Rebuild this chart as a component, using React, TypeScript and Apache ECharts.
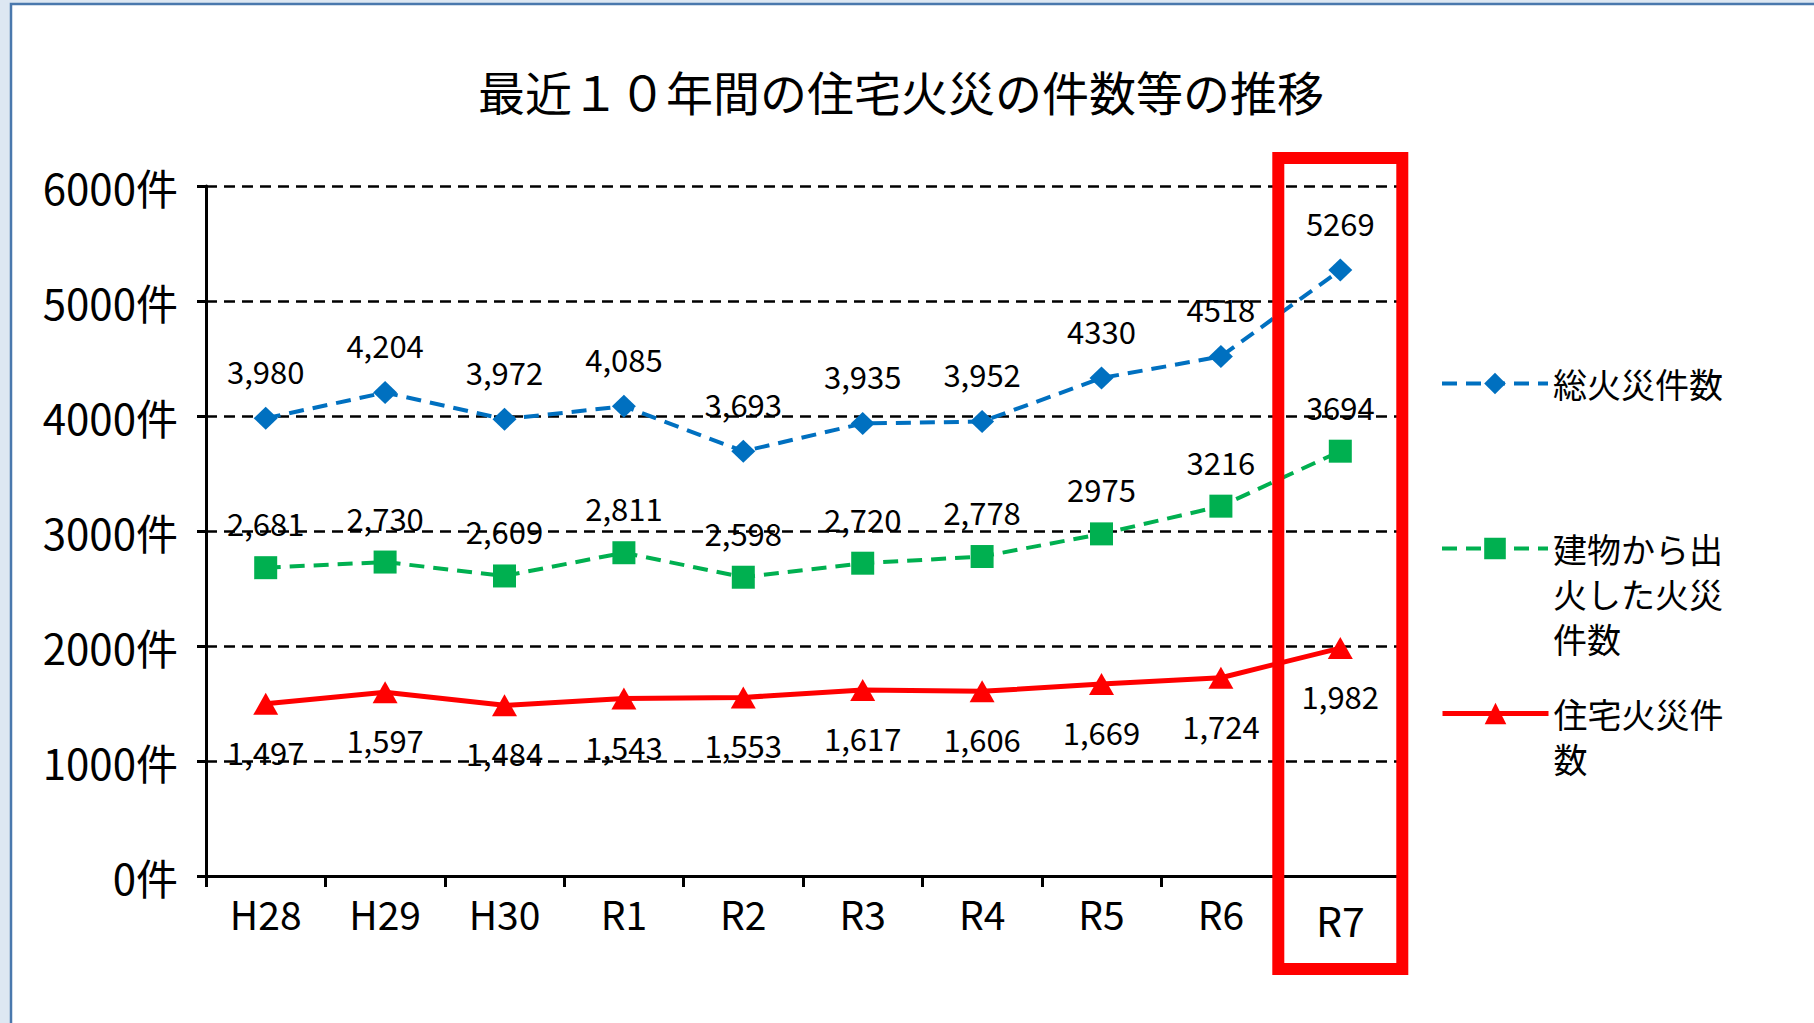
import React, { useEffect, useRef } from "react";
import * as echarts from "echarts";

const categories = ["H28", "H29", "H30", "R1", "R2", "R3", "R4", "R5", "R6", "R7"];

const totalFires = [3980, 4204, 3972, 4085, 3693, 3935, 3952, 4330, 4518, 5269];
const totalFireLabels = ["3,980", "4,204", "3,972", "4,085", "3,693", "3,935", "3,952", "4330", "4518", "5269"];

const buildingFires = [2681, 2730, 2609, 2811, 2598, 2720, 2778, 2975, 3216, 3694];
const buildingFireLabels = ["2,681", "2,730", "2,609", "2,811", "2,598", "2,720", "2,778", "2975", "3216", "3694"];

const residentialFires = [1497, 1597, 1484, 1543, 1553, 1617, 1606, 1669, 1724, 1982];
const residentialFireLabels = ["1,497", "1,597", "1,484", "1,543", "1,553", "1,617", "1,606", "1,669", "1,724", "1,982"];

const seriesNames = ["総火災件数", "建物から出火した火災件数", "住宅火災件数"];
const legendLines: Record<string, string[]> = {
  "総火災件数": ["総火災件数"],
  "建物から出火した火災件数": ["建物から出", "火した火災", "件数"],
  "住宅火災件数": ["住宅火災件", "数"],
};

const yTicks = { min: 0, max: 6000, interval: 1000 };
const highlightCategory = "R7";
const titleText = "最近１０年間の住宅火災の件数等の推移";

const FONT = "'Noto Sans CJK JP', 'Noto Sans', sans-serif";
const BLUE = "#0070c0";
const GREEN = "#00b050";
const RED = "#ff0000";
const LH = 45;

function legendFor(name: string, top: number, lineWidth: number) {
  return {
    data: [name],
    left: 1440,
    top,
    orient: "vertical",
    padding: 0,
    itemWidth: 106,
    itemHeight: 27,
    lineStyle: { width: lineWidth },
    formatter: (nm: string) => {
      const lines = legendLines[nm];
      // leading blank lines keep the first text line level with the legend icon
      const pad = new Array(lines.length - 1).fill("");
      return pad.concat(lines).join("\n");
    },
    textStyle: {
      fontFamily: FONT,
      fontSize: 34,
      lineHeight: LH,
      color: "#000",
    },
  };
}

export default function App() {
  const ref = useRef<HTMLDivElement>(null);

  useEffect(() => {
    if (!ref.current) return;
    const chart = echarts.init(ref.current, null, { renderer: "svg" });
    const frame = {
      id: "frame",
      type: "rect",
      z: -10,
      silent: true,
      shape: { x: 11, y: 4, width: 1900, height: 1100 },
      style: { fill: "#ffffff", stroke: "#4a78ad", lineWidth: 2.5 },
    };
    const dataLabel = {
      show: true,
      fontFamily: FONT,
      fontSize: 31,
      color: "#000",
    };
    const option: any = {
      animation: false,
      backgroundColor: "#dde7f2",
      textStyle: { fontFamily: FONT },
      title: {
        text: titleText,
        left: 896,
        textAlign: "center",
        top: 62,
        textStyle: { fontFamily: FONT, fontSize: 47, fontWeight: "normal", color: "#000" },
      },
      legend: [
        legendFor(seriesNames[0], 361, 4),
        legendFor(seriesNames[1], 436, 4),
        legendFor(seriesNames[2], 646, 5),
      ],
      grid: { left: 206, right: 414, top: 186, bottom: 147, containLabel: false },
      xAxis: {
        type: "category",
        data: categories,
        boundaryGap: true,
        axisLine: { lineStyle: { color: "#000", width: 3 } },
        axisTick: { show: true, interval: 0, length: 11, lineStyle: { color: "#000", width: 3 } },
        axisLabel: {
          interval: 0,
          margin: 17,
          fontFamily: FONT,
          fontSize: 39,
          color: "#000",
          formatter: (v: string) => (v === highlightCategory ? "{h|" + v + "}" : v),
          rich: { h: { fontFamily: FONT, fontSize: 41, color: "#000", padding: [5, 0, 0, 0] } },
        },
        splitLine: { show: false },
      },
      yAxis: {
        type: "value",
        min: yTicks.min,
        max: yTicks.max,
        interval: yTicks.interval,
        axisLine: { show: true, lineStyle: { color: "#000", width: 3 } },
        axisTick: { show: true, length: 9, lineStyle: { color: "#000", width: 3 } },
        axisLabel: {
          margin: 28,
          fontFamily: FONT,
          fontSize: 42,
          color: "#000",
          formatter: (v: number) => String(v) + "件",
        },
        splitLine: { show: true, lineStyle: { color: "#000", width: 2.5, type: [11, 7] } },
      },
      series: [
        {
          name: seriesNames[0],
          type: "line",
          data: totalFires,
          symbol: "diamond",
          symbolSize: [24, 23],
          itemStyle: { color: BLUE },
          lineStyle: { color: BLUE, width: 4, type: [15, 9] },
          label: {
            ...dataLabel,
            position: "top",
            distance: 21,
            formatter: (p: any) => totalFireLabels[p.dataIndex],
          },
          z: 3,
        },
        {
          name: seriesNames[1],
          type: "line",
          data: buildingFires,
          symbol: "rect",
          symbolSize: 23,
          itemStyle: { color: GREEN },
          lineStyle: { color: GREEN, width: 4, type: [15, 9] },
          label: {
            ...dataLabel,
            position: "top",
            distance: 18,
            formatter: (p: any) => buildingFireLabels[p.dataIndex],
          },
          z: 3,
        },
        {
          name: seriesNames[2],
          type: "line",
          data: residentialFires,
          symbol: "triangle",
          symbolSize: [25, 22],
          itemStyle: { color: RED },
          lineStyle: { color: RED, width: 5 },
          label: {
            ...dataLabel,
            position: "bottom",
            distance: 21,
            formatter: (p: any) => residentialFireLabels[p.dataIndex],
          },
          z: 3,
        },
      ],
      graphic: [frame],
    };
    chart.setOption(option);

    const cx = chart.convertToPixel({ xAxisIndex: 0 }, highlightCategory) as number;
    chart.setOption({
      graphic: [
        frame,
        {
          id: "highlight",
          type: "rect",
          z: 100,
          silent: true,
          shape: { x: cx - 62, y: 158, width: 124, height: 811 },
          style: { fill: "none", stroke: RED, lineWidth: 12 },
        },
      ],
    });

    return () => chart.dispose();
  }, []);

  return (
    <div
      ref={ref}
      style={{ position: "absolute", left: 0, top: 0, width: 1814, height: 1023 }}
    />
  );
}
